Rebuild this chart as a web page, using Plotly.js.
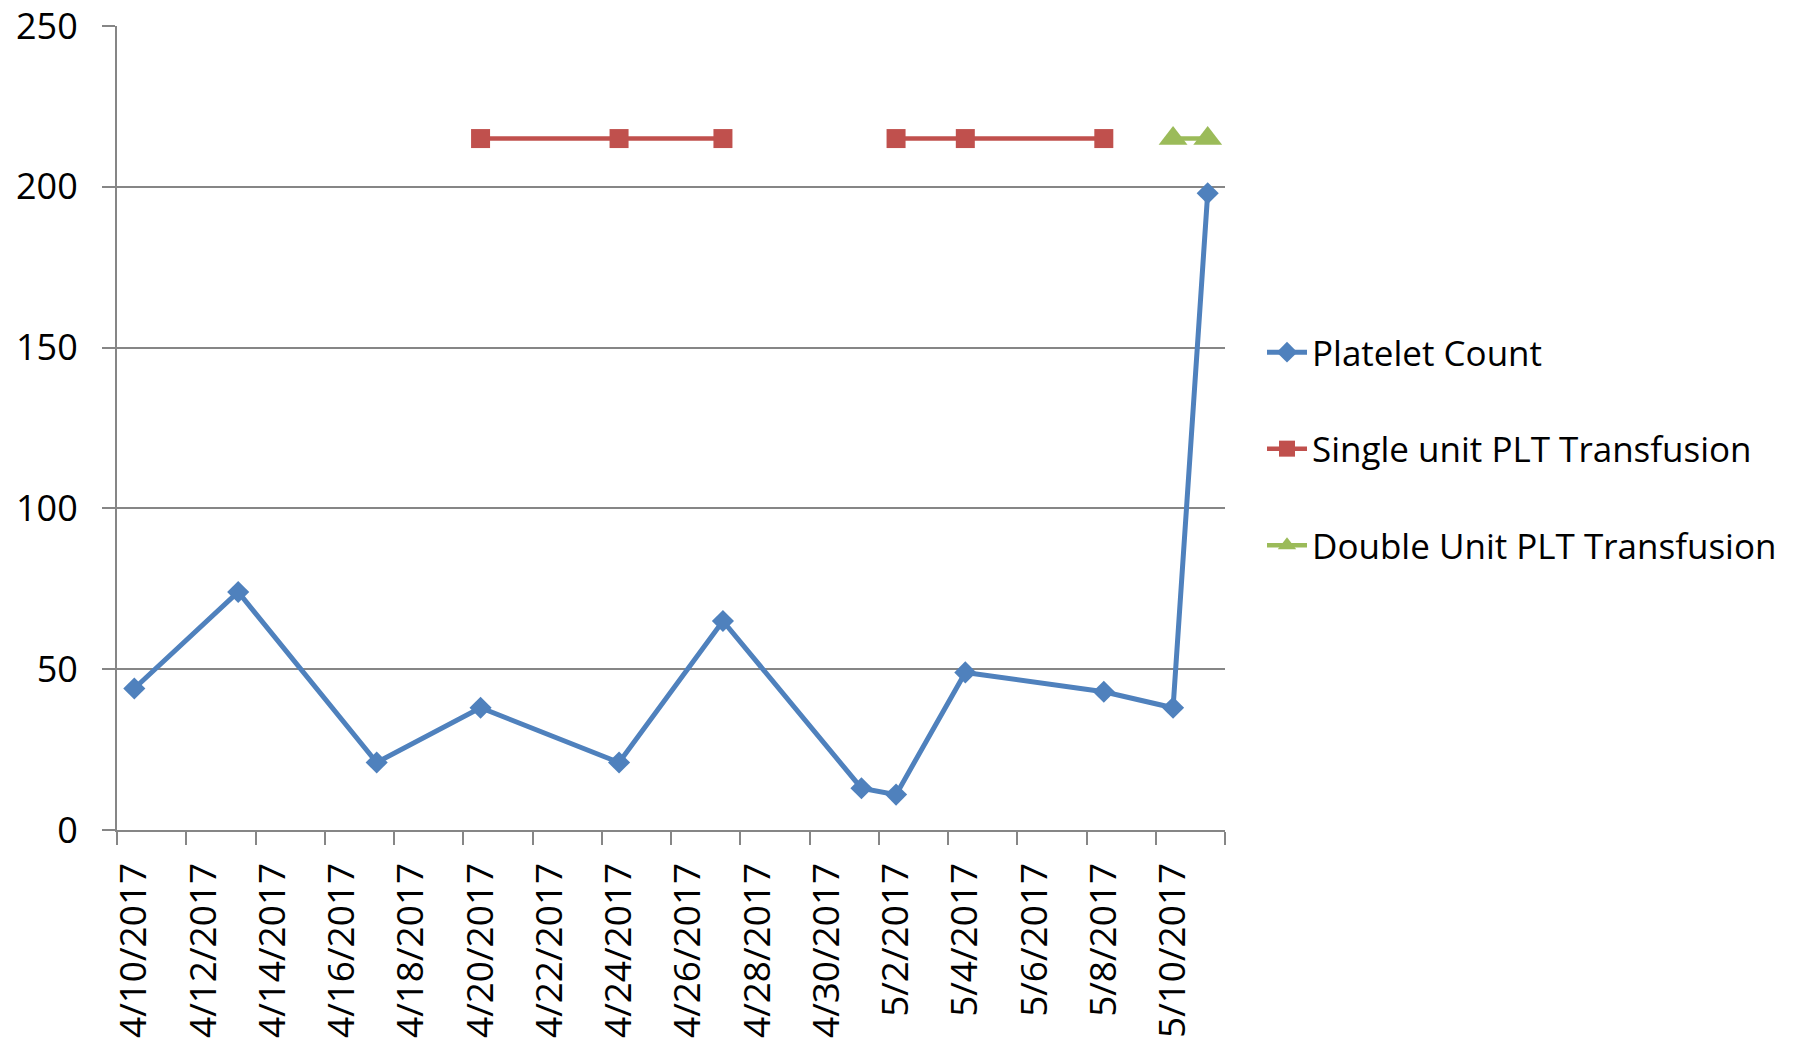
<!DOCTYPE html>
<html>
<head>
<meta charset="utf-8">
<script src="https://cdn.plot.ly/plotly-3.0.1.min.js"></script>
<style>html,body{margin:0;padding:0;background:#fff;}#chart{width:1797px;height:1043px;}</style>
</head>
<body>
<div id="chart"></div>
<script>
// Platelet count
const plateletDates = ['2017-04-10','2017-04-13','2017-04-17','2017-04-20','2017-04-24','2017-04-27','2017-05-01','2017-05-02','2017-05-04','2017-05-08','2017-05-10','2017-05-11'];
const plateletValues = [44, 74, 21, 38, 21, 65, 13, 11, 49, 43, 38, 198];
// Single unit transfusions (null breaks the line)
const singleDates = ['2017-04-20','2017-04-24','2017-04-27','2017-04-30','2017-05-02','2017-05-04','2017-05-08'];
const singleValues = [215, 215, 215, null, 215, 215, 215];
// Double unit transfusions
const doubleDates = ['2017-05-10','2017-05-11'];
const doubleValues = [215, 215];
// Axis tick labels
const tickDates = ['2017-04-10','2017-04-12','2017-04-14','2017-04-16','2017-04-18','2017-04-20','2017-04-22','2017-04-24','2017-04-26','2017-04-28','2017-04-30','2017-05-02','2017-05-04','2017-05-06','2017-05-08','2017-05-10'];
const tickLabels = ['4/10/2017','4/12/2017','4/14/2017','4/16/2017','4/18/2017','4/20/2017','4/22/2017','4/24/2017','4/26/2017','4/28/2017','4/30/2017','5/2/2017','5/4/2017','5/6/2017','5/8/2017','5/10/2017'];
const yTicks = [0, 50, 100, 150, 200, 250];

const FONT = 'Open Sans, sans-serif';
const GREY = '#868686';

const traces = [
  {x: plateletDates, y: plateletValues, name: 'Platelet Count', type: 'scatter', mode: 'lines+markers',
   line: {color: '#4F81BD', width: 5}, marker: {symbol: 'diamond', size: 17, color: '#4F81BD'}, legendgroup: 'a'},
  {x: singleDates, y: singleValues, name: 'Single unit PLT Transfusion', type: 'scatter', mode: 'lines+markers',
   connectgaps: false, line: {color: '#C0504D', width: 4.5}, marker: {symbol: 'square', size: 19, color: '#C0504D'}, legendgroup: 'b'},
  {x: doubleDates, y: doubleValues, name: 'Double Unit PLT Transfusion', type: 'scatter', mode: 'lines+markers',
   line: {color: '#9BBB59', width: 4.5}, marker: {symbol: 'triangle-up', size: 25, color: '#9BBB59'}, legendgroup: 'c'}
];

const layout = {
  width: 1797, height: 1043,
  margin: {l: 117, r: 572, t: 26, b: 213},
  paper_bgcolor: '#fff', plot_bgcolor: '#fff',
  font: {family: FONT, size: 35, color: '#000'},
  showlegend: true,
  legend: {x: 1.0334, xanchor: 'left', y: 0.474, yanchor: 'middle', font: {family: FONT, size: 35, color: '#000'},
           itemwidth: 40, traceorder: 'grouped', tracegroupgap: 48, bgcolor: 'rgba(0,0,0,0)'},
  xaxis: {
    type: 'date', range: ['2017-04-09 12:00', '2017-05-11 12:00'],
    tickmode: 'array', tickvals: tickDates, ticktext: tickLabels, tickangle: -90,
    ticks: '', showgrid: false, zeroline: false,
    showline: true, linecolor: GREY, linewidth: 2,
    tickfont: {family: FONT, size: 37, color: '#000'},
    minor: {tickmode: 'linear', tick0: '2017-04-09 12:00', dtick: 2 * 86400000, ticks: 'outside', ticklen: 13, tickwidth: 2, tickcolor: GREY, showgrid: false},
    ticklabelstandoff: 16
  },
  yaxis: {
    range: [0, 250], tickmode: 'array', tickvals: yTicks,
    ticks: 'outside', ticklen: 13, tickwidth: 2, tickcolor: GREY,
    showline: true, linecolor: GREY, linewidth: 2,
    showgrid: true, gridcolor: GREY, gridwidth: 2, zeroline: false,
    tickfont: {family: FONT, size: 36, color: '#000'},
    ticklabelstandoff: 17
  }
};

Plotly.newPlot('chart', traces, layout, {displayModeBar: false, staticPlot: true});
</script>
</body>
</html>
